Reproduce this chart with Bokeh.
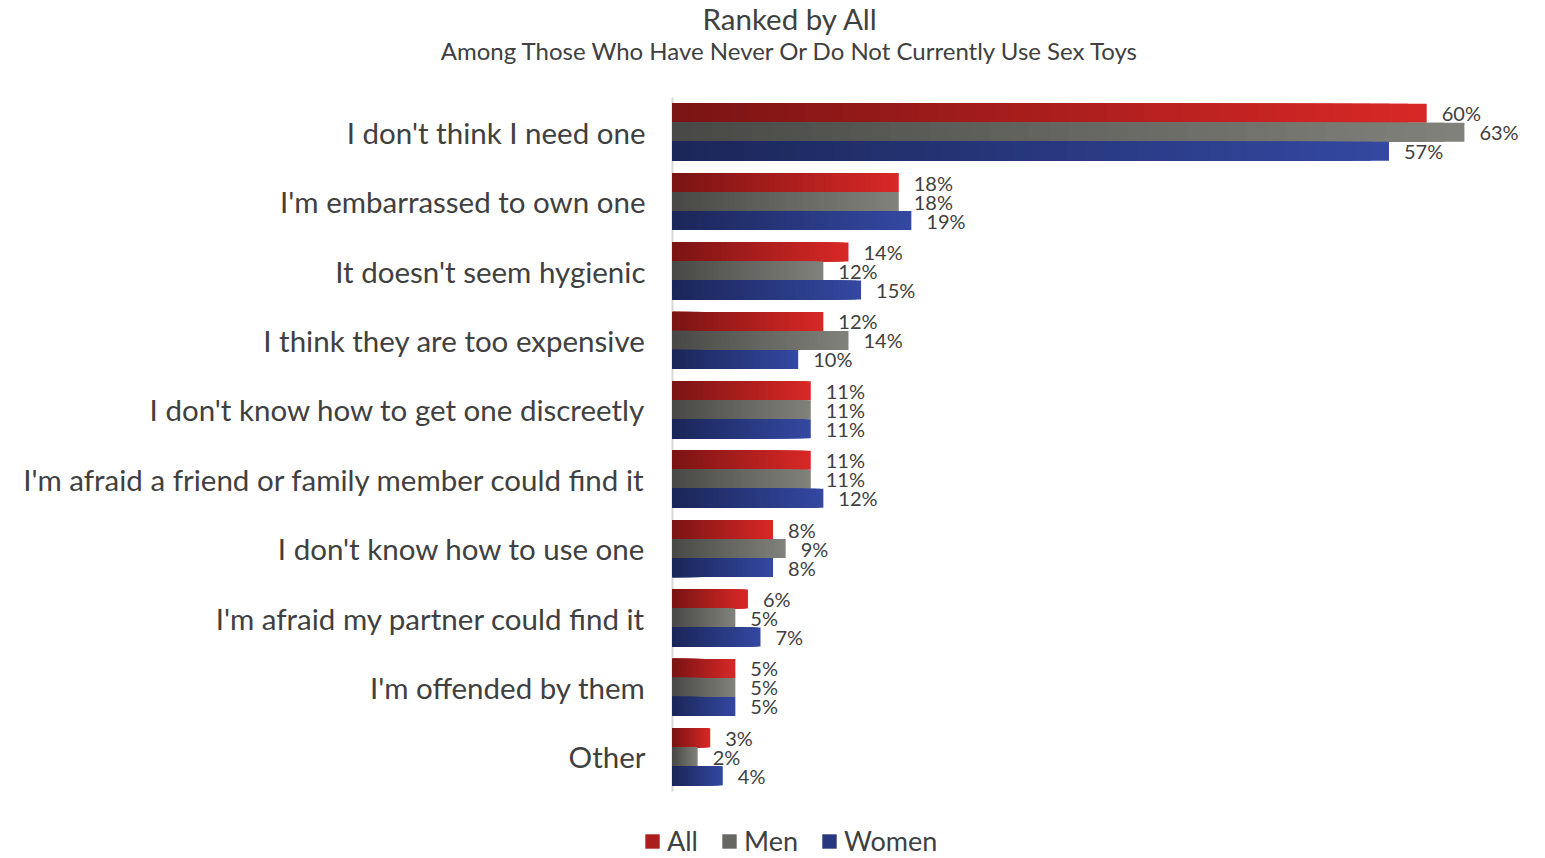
from bokeh.plotting import figure
from bokeh.models import ColumnDataSource, Range1d, Legend, LegendItem
from bokeh.core.properties import value
from bokeh.embed import file_html
from bokeh.resources import INLINE

# ---- data ----
categories = [
    "I don't think I need one",
    "I'm embarrassed to own one",
    "It doesn't seem hygienic",
    "I think they are too expensive",
    "I don't know how to get one discreetly",
    "I'm afraid a friend or family member could find it",
    "I don't know how to use one",
    "I'm afraid my partner could find it",
    "I'm offended by them",
    "Other",
]
series_names = ["All", "Men", "Women"]
all_vals = [60, 18, 14, 12, 11, 11, 8, 6, 5, 3]
men_vals = [63, 18, 12, 14, 11, 11, 9, 5, 5, 2]
women_vals = [57, 19, 15, 10, 11, 12, 8, 7, 5, 4]
series_vals = [all_vals, men_vals, women_vals]
title_text = "Ranked by All"
subtitle_text = "Among Those Who Have Never Or Do Not Currently Use Sex Toys"

# ---- style / layout ----
grad = [((122, 20, 20), (217, 40, 38)),      # left dark -> right bright
        ((72, 72, 70), (130, 130, 124)),
        ((27, 38, 88), (52, 72, 162))]
FONT = "Lato"
TXT = "#404040"
W, H = 1544, 857
X0_PX, PX_PER_PCT = 672, 12.57          # zero line and horizontal scale
TOP_PX, ROW_PX = 97, 69.4                 # plot area top and category pitch
NSTEP = 40


def shade(c0, c1, t):
    return "#%02x%02x%02x" % tuple(int(round(a + (b - a) * t)) for a, b in zip(c0, c1))


n = len(categories)
x_start = -X0_PX / PX_PER_PCT
x_end = (W - X0_PX) / PX_PER_PCT
y_top = -0.5 - TOP_PX / ROW_PX
y_bot = n - 0.5 + (H - TOP_PX - n * ROW_PX) / ROW_PX

p = figure(width=W, height=H, output_backend="svg", toolbar_location=None,
           x_range=Range1d(x_start, x_end), y_range=Range1d(y_bot, y_top),
           x_axis_location=None, y_axis_location=None, title=None,
           min_border_left=0, min_border_right=0, min_border_top=0, min_border_bottom=0)
p.outline_line_color = None
p.xgrid.visible = False
p.ygrid.visible = False

# category axis line
p.segment(x0=[0], y0=[-0.5], x1=[0], y1=[n - 0.5], line_color="#d9d9d9", line_width=2)

# category labels
cat_src = ColumnDataSource(dict(x=[0] * n, y=list(range(n)), t=categories))
p.text(x="x", y="y", text="t", source=cat_src, x_offset=-27, text_align="right",
       text_baseline="middle", text_font=value(FONT), text_font_size="29.5px",
       text_color=TXT)

bar_h = 0.274
offsets = [-bar_h, 0.0, bar_h]
legend_items = []
for s, (name, vals) in enumerate(zip(series_names, series_vals)):
    c0, c1 = grad[s]
    ys = [i + offsets[s] for i in range(n)]
    mid_r = None
    # draw from longest (brightest) to shortest (darkest) -> seamless gradient
    for k in range(NSTEP - 1, -1, -1):
        col = shade(c0, c1, (k + 0.5) / NSTEP)
        right = [v * (k + 1) / NSTEP for v in vals]
        src = ColumnDataSource(dict(y=ys, left=[0] * n, right=right))
        r = p.hbar(y="y", left="left", right="right", height=bar_h, source=src,
                   fill_color=col, line_color=None)
        if k == NSTEP // 2:
            mid_r = r
    legend_items.append(LegendItem(label=name, renderers=[mid_r]))
    lab_src = ColumnDataSource(dict(x=vals, y=ys, t=[f"{v}%" for v in vals]))
    p.text(x="x", y="y", text="t", source=lab_src, x_offset=15,
           text_baseline="middle", text_align="left", text_color=TXT,
           text_font_size="20px", text_font=value(FONT))

# titles
p.text(x=[0], y=[-0.5], text=[title_text], x_offset=790 - X0_PX, y_offset=18 - TOP_PX,
       text_align="center", text_baseline="middle", text_font=value(FONT),
       text_font_size="29.5px", text_color=TXT)
p.text(x=[0], y=[-0.5], text=[subtitle_text], x_offset=790 - X0_PX, y_offset=50 - TOP_PX,
       text_align="center", text_baseline="middle", text_font=value(FONT),
       text_font_size="24px", text_color=TXT)

legend = Legend(items=legend_items, orientation="horizontal", location=(643, 0),
                label_text_font=FONT, label_text_font_size="27px",
                label_text_color=TXT, glyph_width=18, glyph_height=18,
                label_standoff=6, spacing=22, padding=0, margin=0,
                border_line_color=None, background_fill_alpha=0)
p.add_layout(legend)

open("out.html", "w").write(file_html(p, INLINE))
